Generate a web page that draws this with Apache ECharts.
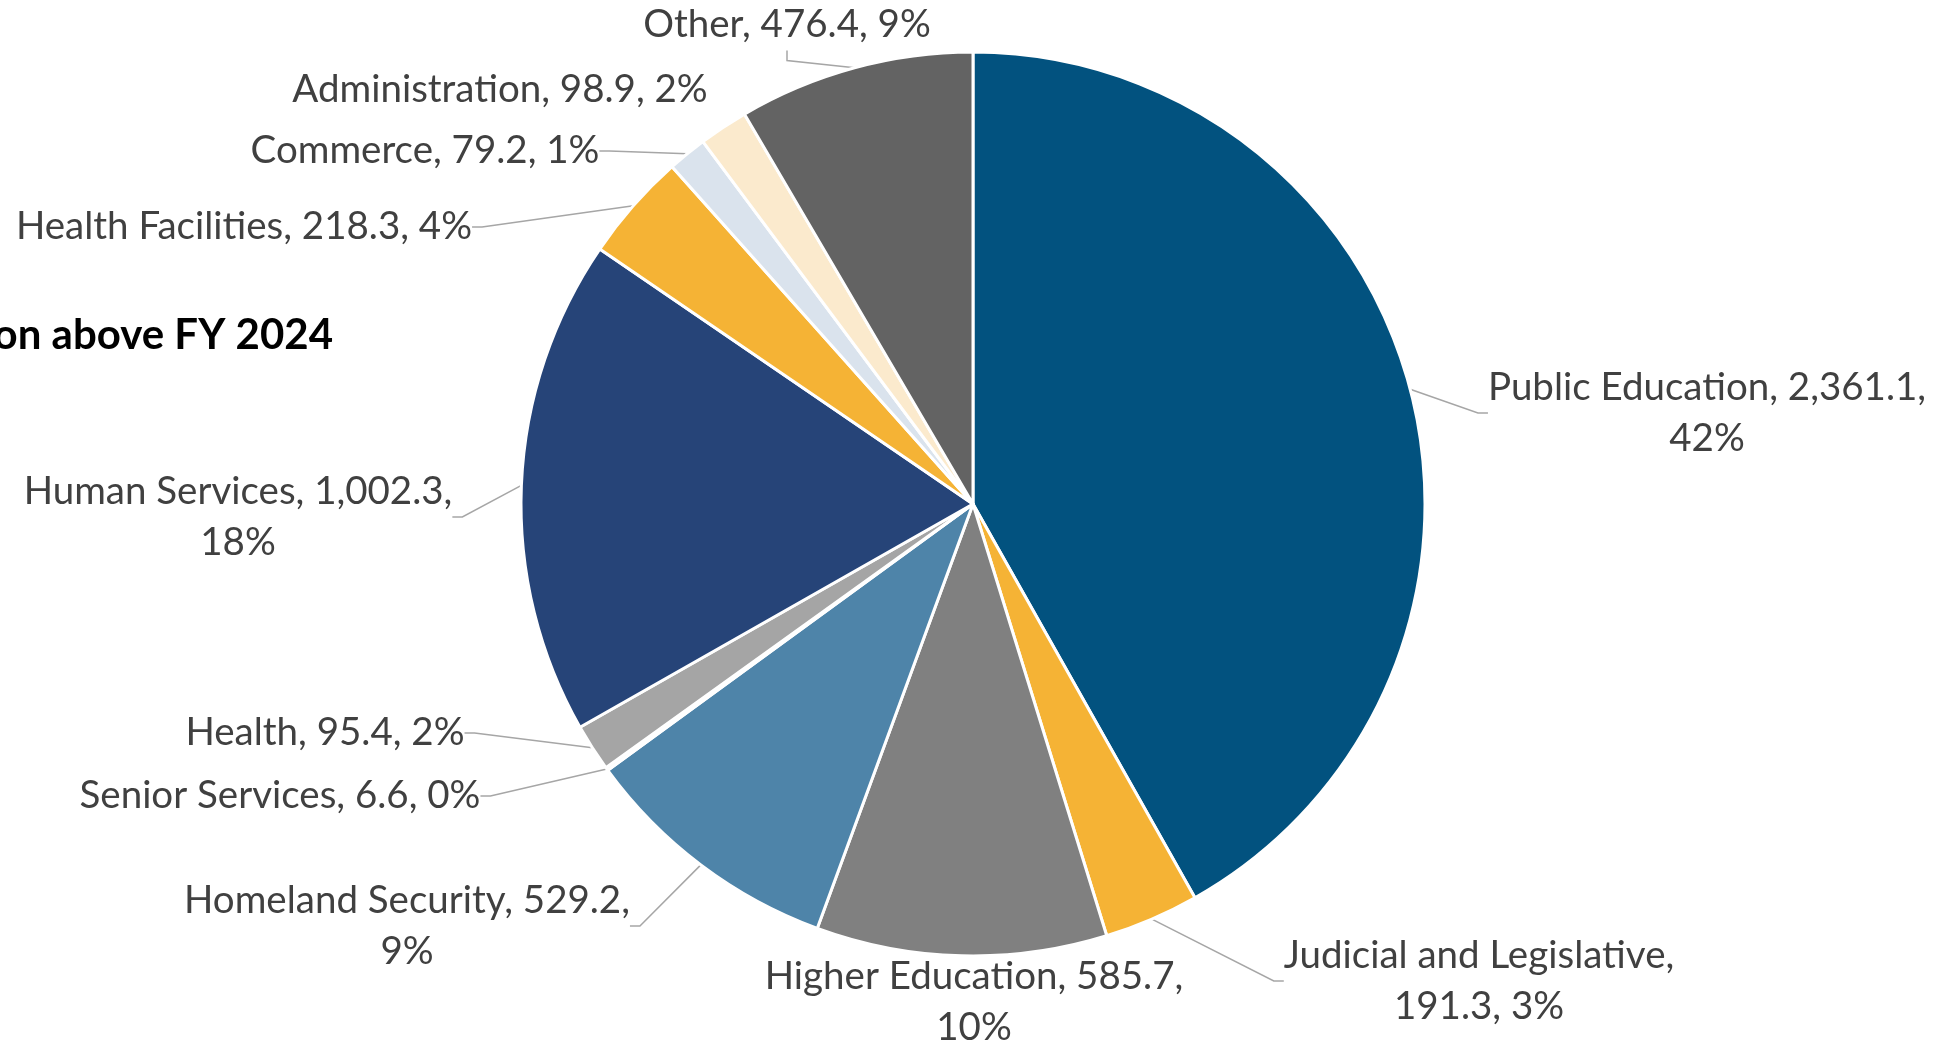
<!DOCTYPE html>
<html>
<head>
<meta charset="utf-8">
<script src="https://cdn.jsdelivr.net/npm/echarts@6/dist/echarts.min.js"></script>
<style>
html,body{margin:0;padding:0;background:#fff;}
#chart{width:1941px;height:1046px;}
</style>
</head>
<body>
<div id="chart"></div>
<script>
// ---- data ----
const categories = ['Public Education','Judicial and Legislative','Higher Education','Homeland Security','Senior Services','Health','Human Services','Health Facilities','Commerce','Administration','Other'];
const values = [2361.1, 191.3, 585.7, 529.2, 6.6, 95.4, 1002.3, 218.3, 79.2, 98.9, 476.4];
const titleText = 'on above FY 2024';

// ---- styles / layout ----
const colors = ['#02527f','#f5b335','#808080','#4e84a9','#f2f2f2','#a5a5a5','#264478','#f5b335','#dae3ed','#fbeacd','#636363'];
// where the label wraps: 'value' = after the value, 'name' = after the name, '' = single line
const wraps = ['value','name','value','value','','','value','','','',''];
const labelPos = [[1707,413],[1479,981],[974,1002],[407,926],[280,796],[325,733],[238,517],[244,227],[425,151],[500,90],[787,25]];
const noLine = ['Administration','Higher Education'];

const fmt = v => v.toLocaleString('en-US',{minimumFractionDigits:1,maximumFractionDigits:1});

const chart = echarts.init(document.getElementById('chart'), null, {renderer:'canvas'});
chart.setOption({
  animation:false,
  backgroundColor:'#ffffff',
  graphic:[{
    type:'text', right: 1941-333, top: 314,
    style:{text:titleText, fill:'#000', font:'bold 42px Lato', textAlign:'right'}
  }],
  series:[{
    type:'pie',
    center:[973,504],
    radius:452,
    startAngle:90,
    clockwise:true,
    percentPrecision:0,
    avoidLabelOverlap:false,
    itemStyle:{borderColor:'#ffffff', borderWidth:3},
    label:{
      show:true,
      position:'outside',
      color:'#404040',
      fontFamily:'Lato',
      fontSize:38.5,
      lineHeight:51,
      align:'center',
      formatter:p=>{
        const i = p.dataIndex;
        const w = wraps[i];
        const n = p.name, v = fmt(p.value), d = p.percent + '%';
        if (w === 'value') return n + ', ' + v + ',\n' + d;
        if (w === 'name') return n + ',\n' + v + ', ' + d;
        return n + ', ' + v + ', ' + d;
      }
    },
    labelLine:{show:true, length:10, length2:10, lineStyle:{color:'#a6a6a6', width:1.5}},
    labelLayout:p=>{
      const pos = labelPos[p.dataIndex];
      return {x:pos[0], y:pos[1], align:'center', verticalAlign:'middle'};
    },
    emphasis:{disabled:true},
    data: categories.map((c,i)=>({
      name:c, value:values[i],
      itemStyle:{color:colors[i]},
      labelLine:{show: noLine.indexOf(c) < 0}
    }))
  }]
});
</script>
</body>
</html>
